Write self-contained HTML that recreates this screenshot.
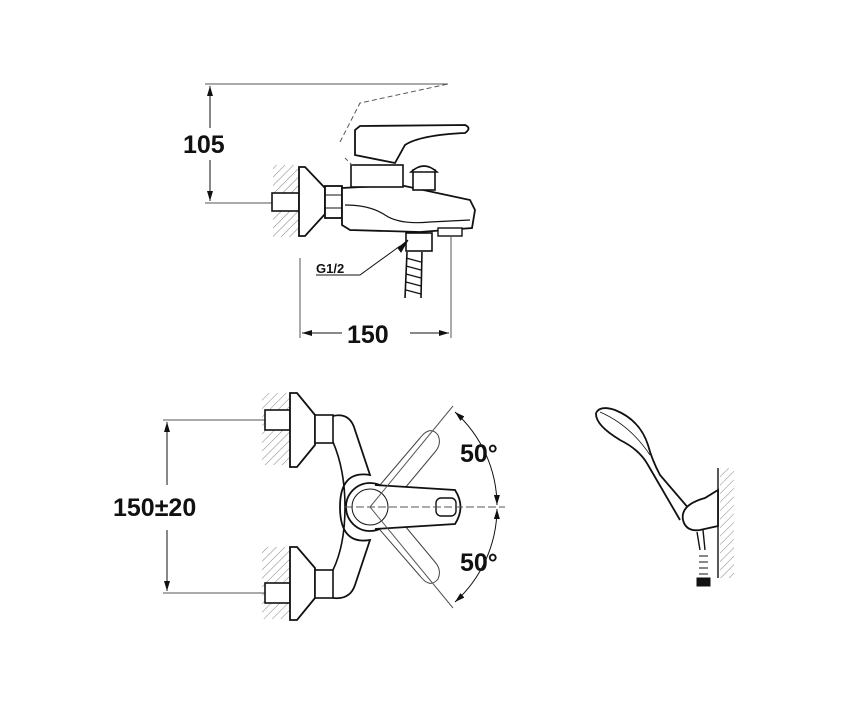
<!DOCTYPE html>
<html><head><meta charset="utf-8"><style>
html,body{margin:0;padding:0;background:#fff}
svg{display:block}
text{font-family:"Liberation Sans",Arial,sans-serif;font-weight:bold;fill:#111}
</style></head><body>
<svg width="850" height="702" viewBox="0 0 850 702" xmlns="http://www.w3.org/2000/svg">
<defs>
<pattern id="h" width="6" height="6" patternUnits="userSpaceOnUse" patternTransform="rotate(45)">
<line x1="0" y1="0" x2="0" y2="6" stroke="#666" stroke-width="0.8"/>
</pattern>
<marker id="a" viewBox="0 0 10 6" refX="10" refY="3" markerWidth="10" markerHeight="6" orient="auto-start-reverse" markerUnits="userSpaceOnUse">
<path d="M0,0 L10,3 L0,6z" fill="#111"/>
</marker>
</defs>
<g fill="none" stroke="#111" stroke-width="1">
<!-- TOP VIEW dims -->
<line x1="205" y1="84" x2="448" y2="84" stroke="#555"/>
<line x1="205" y1="203" x2="275" y2="203" stroke="#555"/>
<line x1="210" y1="86" x2="210" y2="128" marker-start="url(#a)"/>
<line x1="210" y1="160" x2="210" y2="201" marker-end="url(#a)"/>
<!-- wall -->
<rect x="273" y="165" width="25" height="72" fill="url(#h)" stroke="none"/>
<rect x="272" y="193" width="27" height="18" fill="#fff" stroke-width="1.6"/>
<path d="M299,167 L305,167 L325,188 L325,214 L305,236 L299,236Z" fill="#fff" stroke-width="1.8"/>
<rect x="325" y="186" width="17" height="32" fill="#fff" stroke-width="1.8"/>
<line x1="325" y1="195" x2="342" y2="195"/><line x1="325" y1="208" x2="342" y2="208"/>
<!-- body -->
<path d="M342,188 L400,185 L470,200 L475,210 L472,228 L420,232 L350,230 L342,225Z" fill="#fff" stroke-width="1.8"/>
<path d="M345,205 Q370,205 385,215 Q400,225 430,222 L470,220" stroke-width="1.2"/>
<rect x="351" y="165" width="52" height="22" fill="#fff" stroke-width="1.6"/>
<!-- handle -->
<path d="M355,130 L355,155 L395,163 L405,145 Q420,135 465,133 Q472,128 465,125 L360,126Z" fill="#fff" stroke-width="1.8"/>
<path d="M340,142 L360,103 L448,84" stroke-dasharray="5,3" stroke="#555"/>
<path d="M345,158 L355,168" stroke-dasharray="4,3" stroke="#555"/>
<!-- knob -->
<rect x="413" y="170" width="22" height="20" fill="#fff" stroke-width="1.6"/>
<path d="M411,172 Q424,160 437,172Z" fill="#fff" stroke-width="1.6"/>
<!-- outlet -->
<rect x="406" y="233" width="26" height="18" fill="#fff" stroke-width="1.6"/>
<rect x="438" y="228" width="24" height="8" fill="#fff" stroke-width="1.4"/>
<path d="M407,252 L405,298 M422,252 L421,298" stroke-width="1.6"/>
<path d="M406,258 L421,262 M406,266 L421,270 M406,274 L421,278 M406,282 L421,286 M406,290 L421,294" stroke-width="1.2"/>
<!-- G1/2 -->
<path d="M316,275 L360,275 L400,246" />
<path d="M398,248 L408,240 L401,252Z" fill="#111"/>
<!-- 150 top -->
<line x1="300" y1="258" x2="300" y2="338" stroke="#555"/>
<line x1="451" y1="236" x2="451" y2="338" stroke="#555"/>
<line x1="302" y1="333" x2="342" y2="333" marker-start="url(#a)"/>
<line x1="410" y1="333" x2="449" y2="333" marker-end="url(#a)"/>

<!-- BOTTOM VIEW -->
<line x1="163" y1="420" x2="265" y2="420" stroke="#555"/>
<line x1="163" y1="593" x2="265" y2="593" stroke="#555"/>
<line x1="167" y1="422" x2="167" y2="485" marker-start="url(#a)"/>
<line x1="167" y1="530" x2="167" y2="591" marker-end="url(#a)"/>
<rect x="262" y="393" width="27" height="72" fill="url(#h)" stroke="none"/>
<rect x="262" y="547" width="27" height="72" fill="url(#h)" stroke="none"/>
<rect x="265" y="410" width="25" height="20" fill="#fff" stroke-width="1.6"/>
<rect x="265" y="583" width="25" height="20" fill="#fff" stroke-width="1.6"/>
<path d="M290,393 L297,393 L315,415 L315,445 L297,467 L290,467Z" fill="#fff" stroke-width="1.8"/>
<path d="M290,547 L297,547 L315,568 L315,598 L297,620 L290,620Z" fill="#fff" stroke-width="1.8"/>
<rect x="315" y="415" width="18" height="28" fill="#fff" stroke-width="1.6"/>
<rect x="315" y="570" width="18" height="28" fill="#fff" stroke-width="1.6"/>
<!-- Y body -->
<path d="M333,416 Q350,412 355,430 L370,475 Q340,470 340,507 Q340,545 370,540 L355,585 Q350,600 333,598" stroke-width="1.8"/>
<path d="M333,442 Q345,470 345,507 Q345,545 333,570" stroke-width="1.6"/>
<!-- ghost levers -->
<path d="M380,485 L420,438 Q430,425 438,435 Q442,444 435,452 L395,500" stroke="#444" stroke-width="1"/>
<path d="M380,530 L420,576 Q430,589 438,579 Q442,570 435,562 L395,514" stroke="#444" stroke-width="1"/>
<!-- lever -->
<circle cx="370" cy="507" r="24" fill="#fff" stroke-width="1.8"/>
<path d="M375,485 L455,490 Q466,507 455,524 L375,529" fill="#fff" stroke-width="1.8"/>
<rect x="436" y="498" width="20" height="18" rx="5" fill="#fff" stroke-width="1.4"/>
<circle cx="370" cy="507" r="18" stroke-width="1"/>
<line x1="345" y1="507" x2="505" y2="507" stroke="#555" stroke-dasharray="8,3"/>
<line x1="370" y1="507" x2="453" y2="406" stroke="#555"/>
<line x1="370" y1="507" x2="453" y2="608" stroke="#555"/>
<path d="M455,412 A127,127 0 0 1 497,505" marker-start="url(#a)" marker-end="url(#a)"/>
<path d="M497,509 A127,127 0 0 1 455,602" marker-start="url(#a)" marker-end="url(#a)"/>

<!-- SHOWER -->
<rect x="720" y="468" width="14" height="110" fill="url(#h)" stroke="none"/>
<line x1="718" y1="468" x2="718" y2="578" stroke-width="1.4"/>
<path d="M596,413 Q600,405 615,410 Q640,420 648,445 Q652,460 660,475 L690,510" stroke-width="1.8"/>
<path d="M596,413 Q595,425 620,440 Q640,450 648,465 L680,520" stroke-width="1.8"/>
<path d="M600,412 Q630,425 650,455" stroke-width="0.8"/>
<path d="M683,520 Q680,505 705,498 L718,490 L718,526 L700,530 Q686,532 683,520Z" fill="#fff" stroke-width="1.8"/>
<path d="M703,530 L705,550 M697,532 L700,550" stroke-width="1.4"/>
<rect x="697" y="578" width="13" height="8" fill="#111"/>
<path d="M699,556 L708,556 M699,562 L708,562 M699,568 L708,568 M699,574 L708,574" stroke-width="1"/>
</g>
<text x="183" y="153" font-size="25">105</text>
<text x="316" y="273" font-size="13">G1/2</text>
<text x="347" y="343" font-size="25">150</text>
<text x="113" y="516" font-size="25">150±20</text>
<text x="460" y="462" font-size="25">50°</text>
<text x="460" y="571" font-size="25">50°</text>
</svg>
</body></html>
